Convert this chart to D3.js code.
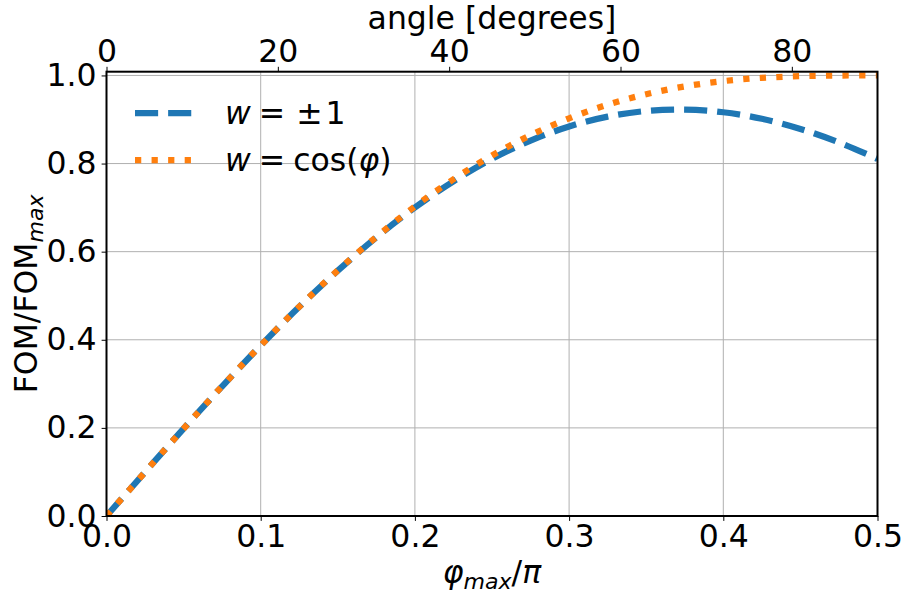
<!DOCTYPE html>
<html>
<head>
<meta charset="utf-8">
<script src="https://cdn.jsdelivr.net/npm/d3@7"></script>
<style>
  html, body { margin: 0; padding: 0; background: #fff; }
  svg { display: block; font-family: "DejaVu Sans", sans-serif; }
</style>
</head>
<body>
<svg id="chart" width="903" height="598"></svg>
<script>
// ---- data ----
const phiOverPi = [0, 0.025, 0.05, 0.075, 0.1, 0.125, 0.15, 0.175, 0.2, 0.225, 0.25,
                   0.275, 0.3, 0.325, 0.35, 0.375, 0.4, 0.425, 0.45, 0.475, 0.5];
const fomPlusMinus = [0, 0.0998, 0.1984, 0.2945, 0.3870, 0.4748, 0.5569, 0.6323, 0.7001, 0.7597, 0.8106,
                      0.8522, 0.8842, 0.9066, 0.9193, 0.9225, 0.9165, 0.9016, 0.8786, 0.8480, 0.8106];
const fomCos = [0, 0.0998, 0.1984, 0.2945, 0.3871, 0.4751, 0.5575, 0.6336, 0.7027, 0.7644, 0.8183,
                0.8644, 0.9027, 0.9336, 0.9575, 0.9751, 0.9871, 0.9945, 0.9984, 0.9998, 1.0];
const xTicks = [0, 0.1, 0.2, 0.3, 0.4, 0.5];
const yTicks = [0, 0.2, 0.4, 0.6, 0.8, 1.0];
const topTicks = [0, 20, 40, 60, 80];

// ---- layout ----
const svg = d3.select("#chart");
const L = 106.5, R = 877.5, T = 71.7, B = 516;
const FS = 31.5;
const x = d3.scaleLinear().domain([0, 0.5]).range([L, R]);
const xTop = d3.scaleLinear().domain([0, 90]).range([L, R]);
const y = d3.scaleLinear().domain([0, 1.0085]).range([B, T]);

// grid
const grid = svg.append("g");
grid.selectAll("line.gx").data(xTicks).join("line")
  .attr("x1", d => x(d)).attr("x2", d => x(d)).attr("y1", T).attr("y2", B)
  .attr("stroke", "#b0b0b0").attr("stroke-width", 1);
grid.selectAll("line.gy").data(yTicks).join("line")
  .attr("y1", d => y(d)).attr("y2", d => y(d)).attr("x1", L).attr("x2", R)
  .attr("stroke", "#b0b0b0").attr("stroke-width", 1);

// clip
svg.append("clipPath").attr("id", "clip").append("rect")
  .attr("x", L).attr("y", T).attr("width", R - L).attr("height", B - T);

const line = d3.line().curve(d3.curveCatmullRom.alpha(0.5));
const ptsA = phiOverPi.map((p, i) => [x(p), y(fomPlusMinus[i])]);
const ptsB = phiOverPi.map((p, i) => [x(p), y(fomCos[i])]);
const lw = 6.25;
const plot = svg.append("g").attr("clip-path", "url(#clip)");
plot.append("path").attr("d", line(ptsA)).attr("fill", "none")
  .attr("stroke", "#1f77b4").attr("stroke-width", lw)
  .attr("stroke-dasharray", `${3.7 * lw} ${1.6 * lw}`).attr("stroke-linecap", "butt");
plot.append("path").attr("d", line(ptsB)).attr("fill", "none")
  .attr("stroke", "#ff7f0e").attr("stroke-width", lw)
  .attr("stroke-dasharray", `${1 * lw} ${1.65 * lw}`).attr("stroke-linecap", "butt");

// axes
function styleAxis(g) {
  g.select(".domain").remove();
  g.selectAll(".tick line").attr("stroke", "#000").attr("stroke-width", 1);
  g.selectAll(".tick text").attr("font-size", FS).attr("fill", "#000")
    .attr("font-family", "DejaVu Sans");
}
svg.append("g").attr("transform", `translate(0,${B})`)
  .call(d3.axisBottom(x).tickValues(xTicks).tickFormat(d3.format(".1f")).tickSize(4.9).tickPadding(4))
  .call(styleAxis);
svg.append("g").attr("transform", `translate(${L},0)`)
  .call(d3.axisLeft(y).tickValues(yTicks).tickFormat(d3.format(".1f")).tickSize(4.9).tickPadding(5))
  .call(styleAxis);
svg.append("g").attr("transform", `translate(0,${T})`)
  .call(d3.axisTop(xTop).tickValues(topTicks).tickFormat(d3.format("d")).tickSize(4.9).tickPadding(5))
  .call(styleAxis);

// spines
svg.append("rect").attr("x", L).attr("y", T).attr("width", R - L).attr("height", B - T)
  .attr("fill", "none").attr("stroke", "#000").attr("stroke-width", 2);

// axis labels
const xl = svg.append("text").attr("x", (L + R) / 2).attr("y", 583)
  .attr("text-anchor", "middle").attr("font-size", FS);
xl.append("tspan").attr("font-style", "italic").text("φ");
xl.append("tspan").attr("font-style", "italic").attr("font-size", FS * 0.7).attr("dy", 6).text("max");
xl.append("tspan").attr("dy", -6).text("/");
xl.append("tspan").attr("font-style", "italic").text("π");

const yl = svg.append("text").attr("transform", `translate(37,${(T + B) / 2}) rotate(-90)`)
  .attr("text-anchor", "middle").attr("font-size", FS);
yl.append("tspan").text("FOM/FOM");
yl.append("tspan").attr("font-style", "italic").attr("font-size", FS * 0.7).attr("dy", 6).text("max");

svg.append("text").attr("x", (L + R) / 2).attr("y", 28.5).attr("text-anchor", "middle")
  .attr("font-size", FS).text("angle [degrees]");

// legend
const leg = svg.append("g");
const rows = [113, 160];
leg.append("line").attr("x1", 135).attr("x2", 192).attr("y1", rows[0]).attr("y2", rows[0])
  .attr("stroke", "#1f77b4").attr("stroke-width", lw).attr("stroke-dasharray", `${3.7 * lw} ${1.6 * lw}`);
leg.append("line").attr("x1", 135).attr("x2", 192).attr("y1", rows[1]).attr("y2", rows[1])
  .attr("stroke", "#ff7f0e").attr("stroke-width", lw).attr("stroke-dasharray", `${1 * lw} ${1.65 * lw}`);
const t1 = leg.append("text").attr("x", 225).attr("y", rows[0] + 11).attr("font-size", FS);
t1.append("tspan").attr("font-style", "italic").text("w");
t1.append("tspan").attr("dx", 8).text("=");
t1.append("tspan").attr("dx", 11).text("±");
t1.append("tspan").attr("dx", 3).text("1");
const t2 = leg.append("text").attr("x", 225).attr("y", rows[1] + 11).attr("font-size", FS);
t2.append("tspan").attr("font-style", "italic").text("w");
t2.append("tspan").attr("dx", 8).text("=");
t2.append("tspan").attr("dx", 8).text("cos(");
t2.append("tspan").attr("font-style", "italic").text("φ");
t2.append("tspan").text(")");
</script>
</body>
</html>
